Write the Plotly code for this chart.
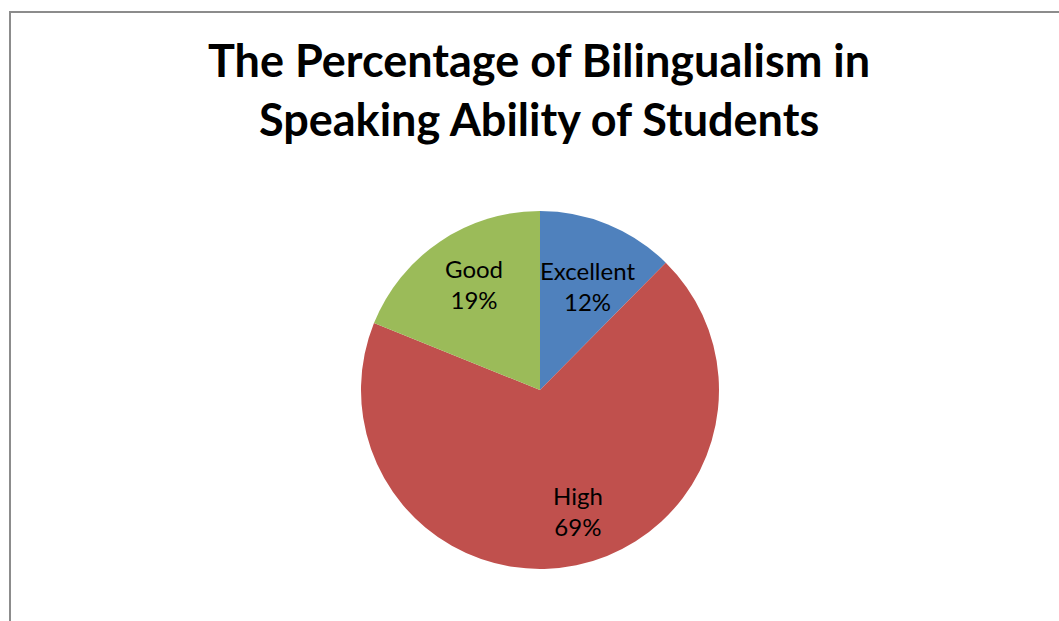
import math
import plotly.graph_objects as go

categories = ["Excellent", "High", "Good"]
values = [12.4, 68.7, 18.9]
colors = ["#4F81BD", "#C0504D", "#9BBB59"]
title_lines = ["The Percentage of Bilingualism in", "Speaking Ability of Students"]

W, H = 1059, 621
cx, cy, R = 540, 390, 179

fig = go.Figure(go.Pie(
    labels=categories,
    values=values,
    sort=False,
    direction="clockwise",
    rotation=0,
    marker=dict(colors=colors, line=dict(width=0)),
    textinfo="none",
    hoverinfo="label+percent",
    showlegend=False,
    domain=dict(x=[(cx - R) / W, (cx + R) / W], y=[1 - (cy + R) / H, 1 - (cy - R) / H]),
))

# data labels placed near slice mid-angles (best-fit style offsets)
total = sum(values)
cum = 0
label_r = [0.64, 0.71, 0.70]
label_dang = [2.0, -5.7, 2.0]
for i, (c, v) in enumerate(zip(categories, values)):
    mid = (cum + v / 2) / total * 2 * math.pi + math.radians(label_dang[i])
    cum += v
    px = cx + math.sin(mid) * R * label_r[i]
    py = cy - math.cos(mid) * R * label_r[i]
    fig.add_annotation(
        x=px / W, y=1 - py / H, xref="paper", yref="paper",
        xanchor="center", yanchor="middle",
        text=f"{c}<br>{round(v / total * 100)}%",
        showarrow=False, align="center",
        font=dict(family="Lato", size=24, color="#000000"),
    )

fig.add_annotation(
    x=539 / W, y=1 - 90 / H, xref="paper", yref="paper",
    xanchor="center", yanchor="middle",
    text="<br>".join(title_lines), showarrow=False, align="center",
    font=dict(family="Lato", size=45, color="#000000", weight="bold"),
)

fig.add_shape(type="rect", xref="paper", yref="paper",
              x0=10 / W, x1=1.02, y0=-0.02, y1=1 - 12 / H,
              line=dict(color="#8c8c8c", width=2), fillcolor="rgba(0,0,0,0)")

fig.update_layout(
    width=W, height=H,
    margin=dict(l=0, r=0, t=0, b=0),
    paper_bgcolor="white", plot_bgcolor="white",
)

fig.write_html("out.html")
